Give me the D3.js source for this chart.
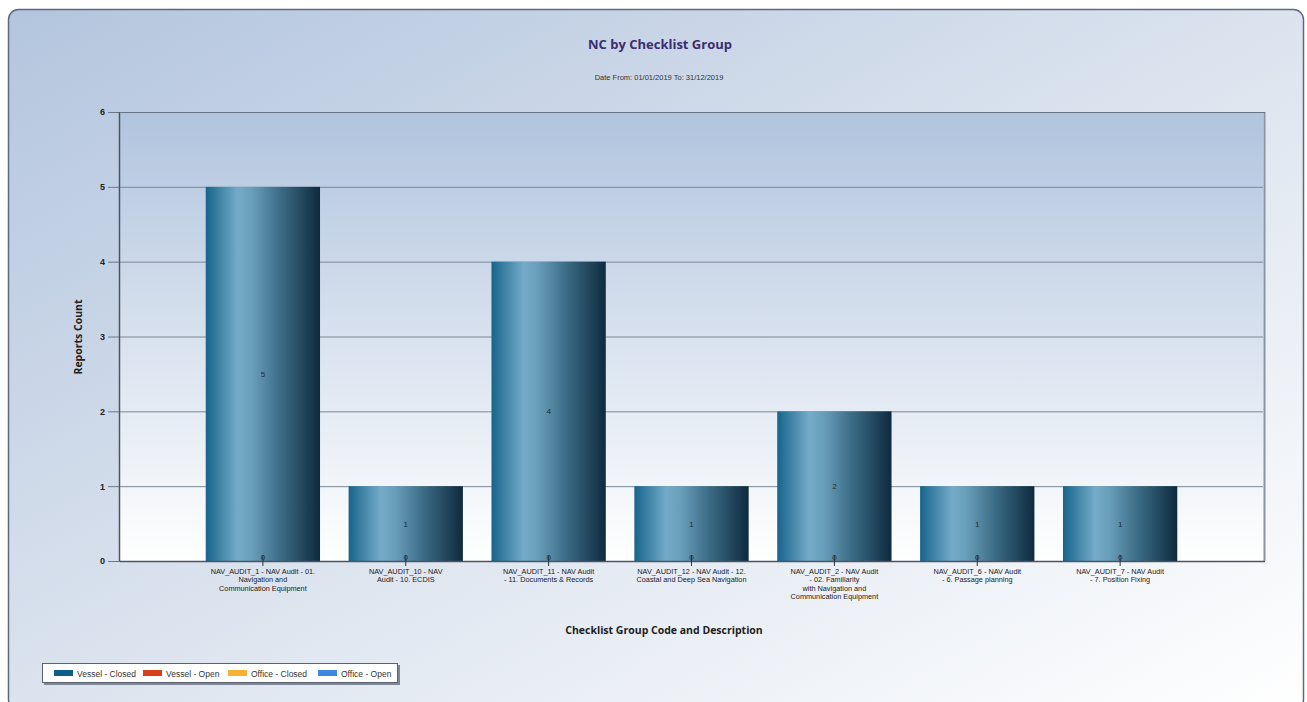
<!DOCTYPE html>
<html lang="en">
<head>
    <meta charset="UTF-8">
    <title>NC by Checklist Group</title>
    <style>
        body { margin: 0; background: #fff; font-family: "Liberation Sans", Arial, sans-serif; }
        svg { display: block; }
        .grid line { stroke: #7d8796; stroke-width: 1; }
        .ytick text { font-size: 9px; font-weight: bold; fill: #222; }
        .cat-label { font-size: 7.3px; fill: #1a1a1a; }
        .title { font-family: "Open Sans", "DejaVu Sans", sans-serif; font-size: 13px; font-weight: bold; fill: #3b2d6e; }
        .subtitle { font-size: 7.5px; fill: #333; }
        .axis-title { font-family: "Open Sans", "DejaVu Sans", sans-serif; font-size: 10.5px; font-weight: bold; fill: #222; }
        .legend text { font-size: 8.5px; fill: #333; }
    </style>
</head>
<body>
<svg id="chart" width="1307" height="702"></svg>
<script src="https://d3js.org/d3.v7.min.js"></script>
<script>
    // data
    const categories = [
        "NAV_AUDIT_1", "NAV_AUDIT_10", "NAV_AUDIT_11", "NAV_AUDIT_12",
        "NAV_AUDIT_2", "NAV_AUDIT_6", "NAV_AUDIT_7"
    ];
    const categoryLabels = [
        ["NAV_AUDIT_1 - NAV Audit - 01.", "Navigation and", "Communication Equipment"],
        ["NAV_AUDIT_10 - NAV", "Audit - 10. ECDIS"],
        ["NAV_AUDIT_11 - NAV Audit", "- 11.  Documents & Records"],
        ["NAV_AUDIT_12 - NAV Audit - 12.", "Coastal and Deep Sea Navigation"],
        ["NAV_AUDIT_2 - NAV Audit", "- 02.  Familiarity", "with Navigation and", "Communication Equipment"],
        ["NAV_AUDIT_6 - NAV Audit", "- 6. Passage planning"],
        ["NAV_AUDIT_7 - NAV Audit", "- 7.  Position Fixing"]
    ];
    const vesselClosed = [5, 1, 4, 1, 2, 1, 1];
    const vesselOpen = [0, 0, 0, 0, 0, 0, 0];
    const yTicks = [0, 1, 2, 3, 4, 5, 6];
    const legendNames = ["Vessel - Closed", "Vessel - Open", "Office - Closed", "Office - Open"];
    const legendColors = ["#0d5f8a", "#d9411a", "#f7b234", "#3f88e0"];

    const svg = d3.select('#chart');
    const defs = svg.append('defs');

    // outer panel gradient
    const pg = defs.append('linearGradient').attr('id', 'panelGrad')
        .attr('x1', '0').attr('y1', '0').attr('x2', '1').attr('y2', '1');
    pg.append('stop').attr('offset', '0%').attr('stop-color', '#b3c5de');
    pg.append('stop').attr('offset', '55%').attr('stop-color', '#dfe6f0');
    pg.append('stop').attr('offset', '100%').attr('stop-color', '#ffffff');

    // plot area gradient
    const ag = defs.append('linearGradient').attr('id', 'areaGrad')
        .attr('x1', '0').attr('y1', '0').attr('x2', '0').attr('y2', '1');
    ag.append('stop').attr('offset', '0%').attr('stop-color', '#b1c4de');
    ag.append('stop').attr('offset', '100%').attr('stop-color', '#ffffff');

    // bar gradient (cylinder look)
    const bg = defs.append('linearGradient').attr('id', 'barGrad')
        .attr('x1', '0').attr('y1', '0').attr('x2', '1').attr('y2', '0');
    bg.append('stop').attr('offset', '0%').attr('stop-color', '#17648c');
    bg.append('stop').attr('offset', '28%').attr('stop-color', '#74abc8');
    bg.append('stop').attr('offset', '40%').attr('stop-color', '#6a9fbb');
    bg.append('stop').attr('offset', '65%').attr('stop-color', '#3c6d86');
    bg.append('stop').attr('offset', '100%').attr('stop-color', '#0e2a3e');

    // outer panel
    svg.append('rect')
        .attr('x', 8.5).attr('y', 9.5).attr('width', 1295).attr('height', 700)
        .attr('rx', 10).attr('ry', 10)
        .attr('fill', 'url(#panelGrad)')
        .attr('stroke', '#5d6a7c').attr('stroke-width', 1.5);

    const plot = { left: 120, right: 1263, top: 112, bottom: 561 };

    const x = d3.scalePoint()
        .domain(categories)
        .range([plot.left, plot.right])
        .padding(1);
    const barWidth = x.step() * 0.8;

    const y = d3.scaleLinear()
        .domain([0, 6])
        .range([plot.bottom, plot.top]);

    // plot area
    svg.append('rect')
        .attr('x', plot.left).attr('y', plot.top)
        .attr('width', plot.right - plot.left).attr('height', plot.bottom - plot.top)
        .attr('fill', 'url(#areaGrad)');

    // y axis ticks
    const yAxis = d3.axisLeft(y).tickValues(yTicks).tickFormat(d3.format('d'))
        .tickSize(12).tickPadding(3);
    const yg = svg.append('g').attr('class', 'ytick')
        .attr('transform', `translate(${plot.left},0)`)
        .call(yAxis);
    yg.select('.domain').remove();
    yg.selectAll('line').attr('stroke', '#6c7686');

    // gridlines
    svg.append('g').attr('class', 'grid')
        .selectAll('line')
        .data(yTicks.filter(d => d > 0))
        .enter().append('line')
        .attr('x1', plot.left).attr('x2', plot.right)
        .attr('y1', d => y(d) + 0.5).attr('y2', d => y(d) + 0.5);

    // right border of plot with shadow
    svg.append('line')
        .attr('x1', plot.right + 1.5).attr('x2', plot.right + 1.5)
        .attr('y1', plot.top).attr('y2', plot.bottom)
        .attr('stroke', '#8a93a0').attr('stroke-width', 2);

    // bars
    svg.selectAll('.bar')
        .data(categories)
        .enter().append('rect')
        .attr('class', 'bar')
        .attr('x', (d) => x(d) - barWidth / 2)
        .attr('y', (d, i) => y(vesselClosed[i]))
        .attr('width', barWidth)
        .attr('height', (d, i) => y(0) - y(vesselClosed[i]))
        .attr('fill', 'url(#barGrad)');

    // value labels
    svg.selectAll('.val')
        .data(categories)
        .enter().append('text')
        .attr('x', d => x(d))
        .attr('y', (d, i) => (y(vesselClosed[i]) + y(0)) / 2 + 3)
        .attr('text-anchor', 'middle')
        .attr('font-size', 8)
        .attr('fill', '#1c2c3a')
        .text((d, i) => vesselClosed[i]);

    // zero labels for empty series
    svg.selectAll('.zero')
        .data(categories)
        .enter().append('text')
        .attr('x', d => x(d))
        .attr('y', (d, i) => y(vesselOpen[i]) - 1)
        .attr('text-anchor', 'middle')
        .attr('font-size', 8)
        .attr('fill', '#1c2c3a')
        .text((d, i) => vesselOpen[i]);

    // axis lines
    svg.append('line')
        .attr('x1', plot.left).attr('x2', plot.right + 2)
        .attr('y1', plot.bottom + 0.5).attr('y2', plot.bottom + 0.5)
        .attr('stroke', '#4b5463').attr('stroke-width', 1.5);
    svg.append('line')
        .attr('x1', plot.left - 0.5).attr('x2', plot.left - 0.5)
        .attr('y1', plot.top).attr('y2', plot.bottom)
        .attr('stroke', '#4b5463').attr('stroke-width', 1.5);
    svg.append('line')
        .attr('x1', plot.left).attr('x2', plot.right + 2)
        .attr('y1', plot.top + 0.5).attr('y2', plot.top + 0.5)
        .attr('stroke', '#6c7686').attr('stroke-width', 1);

    // category ticks
    svg.selectAll('.ctick')
        .data(categories)
        .enter().append('line')
        .attr('x1', d => x(d)).attr('x2', d => x(d))
        .attr('y1', plot.bottom - 6).attr('y2', plot.bottom + 5)
        .attr('stroke', '#2a3240');

    // category labels
    const cl = svg.selectAll('.cat-label')
        .data(categories)
        .enter().append('text')
        .attr('class', 'cat-label')
        .attr('text-anchor', 'middle');
    cl.each(function (d, i) {
        const t = d3.select(this);
        categoryLabels[i].forEach((line, j) => {
            t.append('tspan')
                .attr('x', x(d))
                .attr('y', plot.bottom + 13 + j * 8.3)
                .text(line);
        });
    });

    // titles
    svg.append('text').attr('class', 'title')
        .attr('x', 660).attr('y', 49).attr('text-anchor', 'middle')
        .text('NC by Checklist Group');
    svg.append('text').attr('class', 'subtitle')
        .attr('x', 659).attr('y', 80).attr('text-anchor', 'middle')
        .text('Date From: 01/01/2019  To: 31/12/2019');
    svg.append('text').attr('class', 'axis-title')
        .attr('x', 664).attr('y', 634).attr('text-anchor', 'middle')
        .text('Checklist Group Code and Description');
    svg.append('text').attr('class', 'axis-title')
        .attr('transform', 'translate(82,337) rotate(-90)')
        .attr('text-anchor', 'middle')
        .text('Reports Count');

    // legend
    const lg = svg.append('g').attr('class', 'legend');
    lg.append('rect')
        .attr('x', 44).attr('y', 665).attr('width', 356).attr('height', 20)
        .attr('fill', '#7f8896');
    lg.append('rect')
        .attr('x', 42.5).attr('y', 663.5).attr('width', 355).attr('height', 19)
        .attr('fill', '#ffffff').attr('stroke', '#5a6270');
    const itemX = [54, 143, 228, 318];
    legendNames.forEach((name, i) => {
        lg.append('rect')
            .attr('x', itemX[i]).attr('y', 670).attr('width', 19).attr('height', 6)
            .attr('fill', legendColors[i]);
        lg.append('text')
            .attr('x', itemX[i] + 23).attr('y', 676.5)
            .text(name);
    });
</script>
</body>
</html>
